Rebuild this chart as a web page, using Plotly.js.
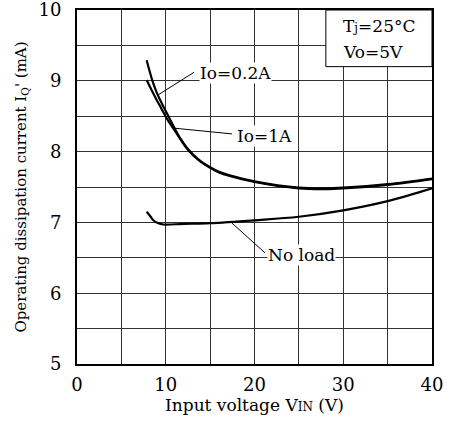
<!DOCTYPE html>
<html>
<head>
<meta charset="utf-8">
<script src="https://cdn.plot.ly/plotly-3.0.1.min.js"></script>
<style>html,body{margin:0;padding:0;background:#fff;}#chart{width:450px;height:423px;}</style>
</head>
<body>
<div id="chart"></div>
<script>
// Data
const vin02 = [7.85, 8.5, 9.0, 9.6, 10.3, 11.0, 11.7, 12.4, 13.2, 14.0, 15.0, 16.0, 17.2, 20, 25, 28, 30, 35, 40];
const iq02  = [9.29, 9.0, 8.83, 8.67, 8.5, 8.33, 8.175, 8.05, 7.945, 7.86, 7.78, 7.715, 7.665, 7.58, 7.49, 7.48, 7.49, 7.54, 7.62];
const vin1  = [7.85, 8.4, 8.98, 9.5, 9.92, 10.5, 11.0, 11.7, 12.4, 13.2, 14.0, 15.0, 16.0, 17.2, 20, 25, 28, 30, 35, 40];
const iq1   = [9.01, 8.87, 8.73, 8.61, 8.51, 8.39, 8.30, 8.165, 8.04, 7.935, 7.85, 7.77, 7.705, 7.655, 7.57, 7.48, 7.47, 7.48, 7.53, 7.61];
const vinNL = [7.85, 8.3, 8.6, 9.1, 9.73, 12, 15, 20, 25, 30, 35, 40];
const iqNL  = [7.15, 7.08, 7.03, 6.99, 6.97, 6.98, 6.99, 7.03, 7.08, 7.17, 7.30, 7.48];
const xTicks = [0, 10, 20, 30, 40];
const yTicks = [5, 6, 7, 8, 9, 10];

const fam = '"DejaVu Serif", "Liberation Serif", serif';
const tickFont = {family: fam, size: 18, color: '#000'};
const textFont = {family: fam, size: 17, color: '#000'};
const lineStyle = {color: '#000', width: 2.2, shape: 'spline', smoothing: 1};

const traces = [
  {x: vin02, y: iq02, mode: 'lines', line: lineStyle, name: 'Io=0.2A', hoverinfo: 'skip'},
  {x: vin1, y: iq1, mode: 'lines', line: lineStyle, name: 'Io=1A', hoverinfo: 'skip'},
  {x: vinNL, y: iqNL, mode: 'lines', line: lineStyle, name: 'No load', hoverinfo: 'skip'}
];

const gridColor = '#333';
const layout = {
  width: 450, height: 423,
  margin: {l: 77, r: 18, t: 10, b: 59},
  paper_bgcolor: '#fff', plot_bgcolor: '#fff',
  showlegend: false,
  font: textFont,
  xaxis: {
    range: [0, 40], tickvals: xTicks, ticktext: xTicks.map(String),
    showgrid: true, gridcolor: gridColor, gridwidth: 1,
    minor: {dtick: 5, showgrid: true, gridcolor: gridColor, gridwidth: 1},
    showline: true, linecolor: '#000', linewidth: 2, mirror: true,
    ticks: '', ticklabelstandoff: 3, zeroline: false, ticklabeloverflow: 'allow',
    tickfont: tickFont,
    title: {text: 'Input voltage V<span style="font-size:12px">IN</span> (V)', font: textFont, standoff: 0}
  },
  yaxis: {
    range: [5, 10], tickvals: yTicks, ticktext: yTicks.map(String),
    showgrid: true, gridcolor: gridColor, gridwidth: 1,
    minor: {dtick: 0.5, showgrid: true, gridcolor: gridColor, gridwidth: 1},
    showline: true, linecolor: '#000', linewidth: 2, mirror: true,
    ticks: '', ticklabelstandoff: 10, zeroline: false, ticklabeloverflow: 'allow',
    tickfont: tickFont,
    title: {text: "Operating dissipation current I<sub>Q</sub>' (mA)", font: {family: fam, size: 15, color: '#000'}, standoff: 8}
  },
  shapes: [
    {type: 'rect', xref: 'paper', yref: 'paper', x0: 0.701, x1: 1, y0: 0.84, y1: 1,
     fillcolor: '#fff', line: {color: '#000', width: 1}, layer: 'above'},
    {type: 'line', xref: 'x', yref: 'y', x0: 9.13, y0: 8.80, x1: 13.18, y1: 9.12, line: {color: '#000', width: 1}},
    {type: 'line', xref: 'x', yref: 'y', x0: 11.04, y0: 8.33, x1: 17.46, y1: 8.25, line: {color: '#000', width: 1}},
    {type: 'line', xref: 'x', yref: 'y', x0: 17.46, y0: 6.99, x1: 21.18, y1: 6.57, line: {color: '#000', width: 1}}
  ],
  annotations: [
    {x: 17.9, y: 9.11, xref: 'x', yref: 'y', text: 'Io=0.2A', showarrow: false, bgcolor: '#fff', font: textFont, borderpad: 0},
    {x: 21.1, y: 8.22, xref: 'x', yref: 'y', text: 'Io=1A', showarrow: false, bgcolor: '#fff', font: textFont, borderpad: 0},
    {x: 25.35, y: 6.54, xref: 'x', yref: 'y', text: 'No load', showarrow: false, bgcolor: '#fff', font: textFont, borderpad: 0},
    {x: 0.745, y: 0.955, xref: 'paper', yref: 'paper', xanchor: 'left', yanchor: 'middle',
     text: 'T<span style="font-size:12px">j</span>=25°C', showarrow: false, font: textFont},
    {x: 0.745, y: 0.88, xref: 'paper', yref: 'paper', xanchor: 'left', yanchor: 'middle',
     text: 'Vo=5V', showarrow: false, font: textFont}
  ]
};

Plotly.newPlot('chart', traces, layout, {displayModeBar: false, staticPlot: true});
</script>
</body>
</html>
